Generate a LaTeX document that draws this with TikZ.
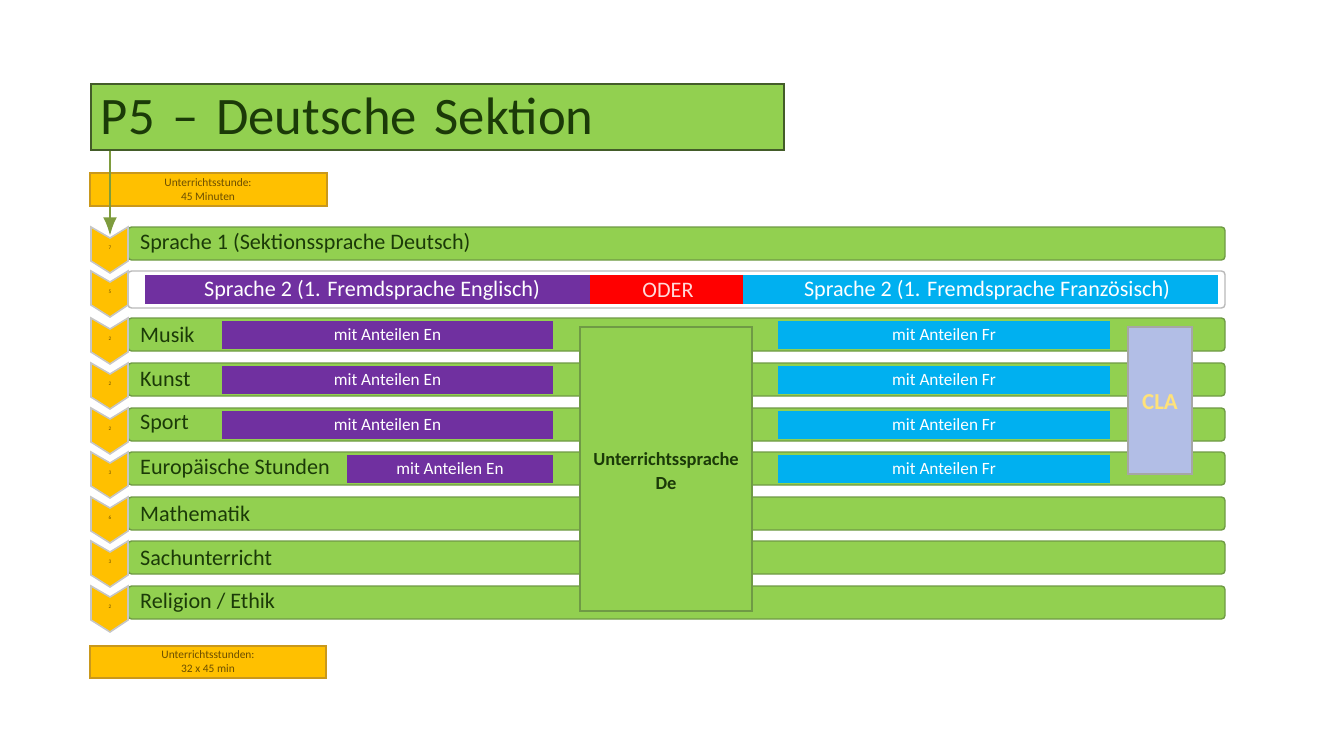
\documentclass[tikz,border=0pt]{standalone}
\usepackage{fontspec}
\setmainfont{Carlito}
\usetikzlibrary{positioning,arrows.meta}

\definecolor{rowgreen}{HTML}{92D050}
\definecolor{rowedge}{HTML}{6F9A45}
\definecolor{textgreen}{HTML}{1B3A08}
\definecolor{gold}{HTML}{FFC000}
\definecolor{goldedge}{HTML}{C9981C}
\definecolor{golddark}{HTML}{6B4E00}
\definecolor{enpurple}{HTML}{7030A0}
\definecolor{frblue}{HTML}{00B0F0}
\definecolor{oderred}{HTML}{FF0000}
\definecolor{clablue}{HTML}{B2BEE6}
\definecolor{clayellow}{HTML}{FFE27A}
\definecolor{lineolive}{HTML}{7E9C3E}

\tikzset{
  rowbar/.style={fill=rowgreen, draw=rowedge, line width=0.8pt, rounded corners=2pt},
  enbar/.style={fill=enpurple},
  frbar/.style={fill=frblue},
  subject/.style={text=textgreen, anchor=west, font=\fontsize{12.6}{13}\selectfont},
  langtext/.style={text=white, font=\fontsize{12.6}{13}\selectfont},
  anteil/.style={text=white, font=\fontsize{9.8}{10}\selectfont},
  chevron/.style={fill=gold, draw=gray!45, line width=0.9pt},
  hours/.style={text=golddark, font=\fontsize{3}{3}\selectfont},
  infobox/.style={fill=gold, draw=goldedge, line width=1pt},
  infotext/.style={text=golddark, font=\fontsize{6.5}{8}\selectfont, align=center}
}

\begin{document}
\begin{tikzpicture}[x=0.02cm,y=-0.02cm,>=Latex]
  \useasboundingbox (0,0) rectangle (1320,744);

  % --- Title ---
  \node[fill=rowgreen, draw=rowedge!60!black, line width=1pt, anchor=north west,
        minimum height=1.32cm, inner xsep=0.2cm, text width=13.46cm, align=left,
        text=textgreen, font=\fontsize{30}{30}\selectfont] (title) at (90,83)
        {P5 – Deutsche Sektion};

  % --- Info boxes ---
  \draw[infobox] (90,173) rectangle (327,206);
  \node[infotext] (lesson) at (208,190) {Unterrichtsstunde:\\45 Minuten};
  \draw[infobox] (90,646) rectangle (326,678);
  \node[infotext] (total) at (208,662) {Unterrichtsstunden:\\32 x 45 min};

  % --- Subject rows ---
  \foreach \t/\name in {227/{Sprache 1 (Sektionssprache Deutsch)}, 318/Musik, 363/Kunst,
      408/Sport, 452/{Europäische Stunden}, 497/Mathematik, 541/Sachunterricht,
      586/{Religion / Ethik}}
  {
    \draw[rowbar] (128,\t) rectangle (1225,\t+33);
    \node[subject] (row\t) at (134,\t+16.5) {\name};
  }

  % Sprache 2 lane
  \draw[fill=white, draw=gray!55, line width=0.8pt, rounded corners=2pt] (128,271) rectangle (1225,308);
  \fill[enbar] (145,275) rectangle (590,304);
  \fill[oderred] (590,275) rectangle (743,304);
  \fill[frbar] (743,275) rectangle (1218,304);
  \node[langtext] (en) at (372,290) {Sprache 2 (1. Fremdsprache Englisch)};
  \node[langtext, text=red!15] (oder) at (668,290) {ODER};
  \node[langtext] (fr) at (987,290) {Sprache 2 (1. Fremdsprache Französisch)};

  % English / French shares
  \foreach \t/\x in {318/222, 363/222, 408/222, 452/347}
  {
    \fill[enbar] (\x,\t+3) rectangle (553,\t+31);
    \node[anteil] (en\t) at ({(\x+553)/2},\t+17) {mit Anteilen En};
    \fill[frbar] (778,\t+3) rectangle (1110,\t+31);
    \node[anteil] (fr\t) at (944,\t+17) {mit Anteilen Fr};
  }

  % Unterrichtssprache block
  \draw[fill=rowgreen, draw=rowedge, line width=1pt] (580,327) rectangle (752,611);
  \node[text=textgreen, font=\bfseries\fontsize{10.5}{14}\selectfont, align=center]
    (unterricht) at (666,471) {Unterrichtssprache\\De};

  % CLA block
  \draw[fill=clablue, draw=gray!70, line width=1pt] (1128,327) rectangle (1192,474);
  \node[text=clayellow, font=\bfseries\fontsize{13}{13}\selectfont] (cla) at (1160,402) {CLA};

  % --- Chevrons with hours ---
  \foreach \t/\h in {227/7, 271/5, 318/2, 363/2, 408/2, 452/3, 497/6, 541/3, 586/2}
  {
    \draw[chevron] (91,\t) -- (110,\t+11) -- (128,\t) -- (128,\t+34)
      -- (110,\t+46) -- (91,\t+34) -- cycle;
    \node[hours] (h\t) at (110,\t+21) {\h};
  }

  % Entry line from title
  \coordinate (entry) at (110,236);
  \draw[->, lineolive, line width=1.7pt] (title.south west -| entry) -- (entry);
\end{tikzpicture}
\end{document}
